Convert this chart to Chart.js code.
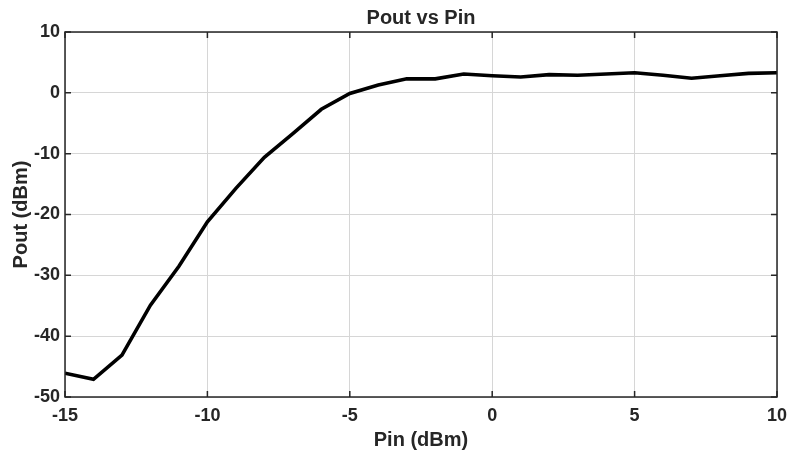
<!DOCTYPE html>
<html lang="en">
<head>
  <meta charset="UTF-8" />
  <title>Pout vs Pin</title>
  <script src="https://cdn.jsdelivr.net/npm/chart.js"></script>
  <style>
    body { margin: 0; background: #fff; }
    canvas { display: block; }
  </style>
</head>
<body>
  <canvas id="chart" width="790" height="452"></canvas>

  <script>
    // values
    const pin = [-15, -14, -13, -12, -11, -10, -9, -8, -7, -6, -5, -4, -3, -2, -1, 0, 1, 2, 3, 4, 5, 6, 7, 8, 9, 10];
    const pout = [-46.1, -47.1, -43.1, -34.9, -28.5, -21.2, -15.7, -10.6, -6.7, -2.7, -0.1, 1.3, 2.3, 2.3, 3.1, 2.8, 2.6, 3.0, 2.9, 3.1, 3.3, 2.9, 2.4, 2.8, 3.2, 3.3];
    const xTicks = [-15, -10, -5, 0, 5, 10];
    const yTicks = [-50, -40, -30, -20, -10, 0, 10];

    const ink = '#262626';
    const fontFamily = '"Liberation Sans", Arial, sans-serif';

    // MATLAB style box with inward ticks, plus the title over the plot area
    const frame = {
      id: 'frame',
      afterDatasetsDraw(chart) {
        const { ctx, chartArea: a, scales: { x, y } } = chart;
        ctx.save();
        ctx.strokeStyle = ink;
        ctx.lineWidth = 1.5;
        ctx.strokeRect(a.left, a.top, a.right - a.left, a.bottom - a.top);
        ctx.beginPath();
        xTicks.forEach(v => {
          const px = x.getPixelForValue(v);
          ctx.moveTo(px, a.bottom); ctx.lineTo(px, a.bottom - 6);
          ctx.moveTo(px, a.top); ctx.lineTo(px, a.top + 6);
        });
        yTicks.forEach(v => {
          const py = y.getPixelForValue(v);
          ctx.moveTo(a.left, py); ctx.lineTo(a.left + 6, py);
          ctx.moveTo(a.right, py); ctx.lineTo(a.right - 6, py);
        });
        ctx.stroke();

        ctx.fillStyle = ink;
        ctx.font = 'bold 20px ' + fontFamily;
        ctx.textAlign = 'center';
        ctx.textBaseline = 'middle';
        ctx.fillText('Pout vs Pin', (a.left + a.right) / 2, 18);
        ctx.restore();
      }
    };

    const ctx = document.getElementById('chart').getContext('2d');
    new Chart(ctx, {
      type: 'line',
      data: {
        datasets: [{
          data: pin.map((p, i) => ({ x: p, y: pout[i] })),
          borderColor: '#000',
          borderWidth: 3.6,
          pointRadius: 0,
          tension: 0,
          fill: false
        }]
      },
      options: {
        responsive: false,
        animation: false,
        layout: { padding: { top: 32, right: 13, left: 0, bottom: 0 } },
        plugins: {
          legend: { display: false },
          tooltip: { enabled: false }
        },
        scales: {
          x: {
            type: 'linear',
            min: -15,
            max: 10,
            afterBuildTicks: s => { s.ticks = xTicks.map(v => ({ value: v })); },
            afterFit: s => { s.height = 55; s.paddingLeft = 0; s.paddingRight = 0; },
            grid: { color: '#d6d6d6', lineWidth: 1, drawTicks: false },
            border: { display: false },
            ticks: {
              padding: 8,
              color: ink,
              maxRotation: 0,
              font: { family: fontFamily, size: 18, weight: 'bold' }
            },
            title: {
              display: true,
              text: 'Pin (dBm)',
              color: ink,
              padding: { top: 9, bottom: 0 },
              font: { family: fontFamily, size: 20, weight: 'bold' }
            }
          },
          y: {
            min: -50,
            max: 10,
            afterBuildTicks: s => { s.ticks = yTicks.map(v => ({ value: v })); },
            afterFit: s => { s.width = 65; s.paddingTop = 0; s.paddingBottom = 0; },
            grid: { color: '#d6d6d6', lineWidth: 1, drawTicks: false },
            border: { display: false },
            ticks: {
              padding: 5,
              color: ink,
              font: { family: fontFamily, size: 18, weight: 'bold' }
            },
            title: {
              display: true,
              text: 'Pout (dBm)',
              color: ink,
              padding: { top: 9, bottom: 0 },
              font: { family: fontFamily, size: 20, weight: 'bold' }
            }
          }
        }
      },
      plugins: [frame]
    });
  </script>
</body>
</html>
